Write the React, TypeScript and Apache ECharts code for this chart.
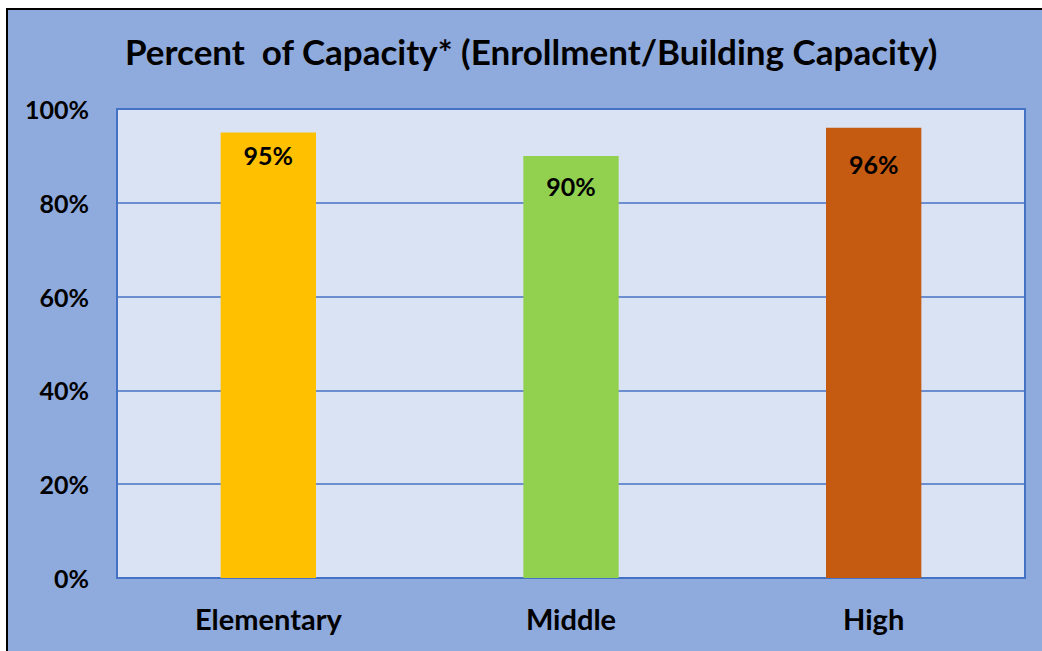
import React, { useEffect, useRef } from "react";
import * as echarts from "echarts";

const categories = ["Elementary", "Middle", "High"];
const values = [95, 90, 96];
const barColors = ["#ffc000", "#92d050", "#c55a11"];
const yTicks = [0, 20, 40, 60, 80, 100];
const labelDistances = [10, 18, 24];

export default function App() {
  const ref = useRef<HTMLDivElement>(null);
  useEffect(() => {
    if (!ref.current) return;
    const chart = echarts.init(ref.current, undefined, { renderer: "svg" });
    const font = "Lato, 'Open Sans', sans-serif";
    chart.setOption({
      animation: false,
      backgroundColor: "transparent",
      title: {
        text: "Percent  of Capacity* (Enrollment/Building Capacity)",
        left: 120,
        top: 28,
        textStyle: { fontFamily: font, fontWeight: "bold", fontSize: 35, color: "#000" },
      },
      grid: {
        show: true,
        left: 117,
        right: 17,
        top: 109,
        bottom: 73,
        backgroundColor: "#dae3f3",
        borderColor: "#4472c4",
        borderWidth: 2,
      },
      xAxis: {
        type: "category",
        data: categories,
        axisTick: { show: false },
        axisLine: { show: true, lineStyle: { color: "#4472c4", width: 2 } },
        axisLabel: { fontFamily: font, fontWeight: "bold", fontSize: 29, color: "#000", margin: 26 },
      },
      yAxis: {
        type: "value",
        min: yTicks[0],
        max: yTicks[yTicks.length - 1],
        interval: 20,
        axisLine: { show: false },
        axisTick: { show: false },
        splitLine: { lineStyle: { color: "#4472c4", width: 1.5 } },
        axisLabel: {
          fontFamily: font,
          fontWeight: "bold",
          fontSize: 25,
          color: "#000",
          margin: 28,
          formatter: "{value}%",
        },
      },
      series: [
        {
          type: "bar",
          barWidth: "31.5%",
          data: values.map((v, i) => ({
            value: v,
            itemStyle: { color: barColors[i] },
            label: { distance: labelDistances[i] },
          })),
          label: {
            show: true,
            position: "insideTop",
            formatter: "{c}%",
            fontFamily: font,
            fontWeight: "bold",
            fontSize: 25,
            color: "#000",
          },
        },
      ],
    });
    return () => chart.dispose();
  }, []);
  return (
    <div style={{ position: "fixed", left: 0, top: 0, width: 1042, height: 651, background: "#fff", overflow: "hidden" }}>
      <div
        style={{
          position: "absolute",
          left: 6,
          top: 8,
          width: 1036,
          height: 643,
          boxSizing: "border-box",
          borderLeft: "2px solid #000",
          borderTop: "2px solid #000",
          background: "#8faadc",
        }}
      />
      <div ref={ref} style={{ position: "absolute", left: 0, top: 0, width: 1042, height: 651 }} />
    </div>
  );
}
